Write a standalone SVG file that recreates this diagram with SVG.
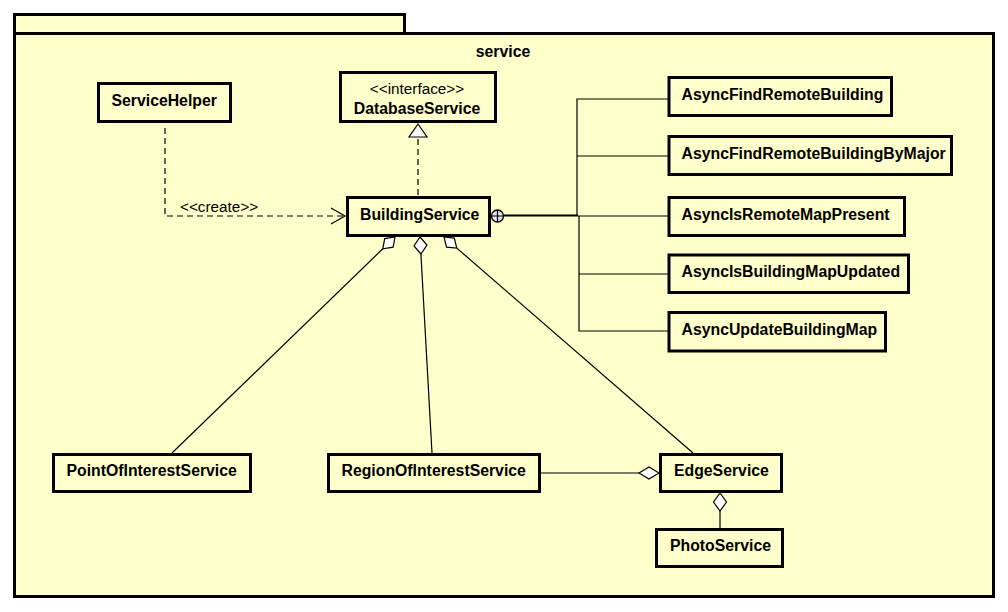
<svg xmlns="http://www.w3.org/2000/svg" width="1008" height="612" viewBox="0 0 1008 612">
  <style>
    .pkg { fill: #ffffcc; stroke: #000; stroke-width: 3; }
    .box { fill: #ffffcc; stroke: #000; stroke-width: 3; }
    .name { font-family: "Liberation Sans", Arial, sans-serif; font-weight: bold; font-size: 15.8px; fill: #000; }
    .stereo { font-family: "Liberation Sans", Arial, sans-serif; font-size: 15.3px; fill: #000; }
    .line { fill: none; stroke: #000; stroke-width: 1.2; }
    .dash { fill: none; stroke: #000; stroke-width: 1.2; stroke-dasharray: 6 4; }
    .diamond { fill: #fff; stroke: #000; stroke-width: 1.2; }
  </style>
  <rect width="1008" height="612" fill="#ffffff"/>

  <!-- package "service" -->
  <g id="package-service">
    <rect class="pkg" x="14.5" y="14.5" width="390" height="19"/>
    <rect class="pkg" x="14.5" y="33.5" width="979" height="563"/>
    <text class="name" x="503" y="57" text-anchor="middle">service</text>
  </g>

  <!-- connectors -->
  <g id="connectors">
    <!-- ServiceHelper creates BuildingService -->
    <path class="dash" d="M165,128 V216 H344"/>
    <path class="line" d="M331,208 L345,216 L331,224"/>
    <text class="stereo" x="180" y="212">&lt;&lt;create&gt;&gt;</text>

    <!-- BuildingService realizes DatabaseService -->
    <path class="dash" d="M418,195 V137"/>
    <path class="diamond" d="M418,124 L427,137 L409,137 Z"/>

    <!-- nested classes of BuildingService: shared trunk, then branches -->
    <path fill="none" stroke="#000" stroke-width="2" d="M503,215.5 H578"/>
    <path class="line" d="M577,215 V99 H668"/>
    <path class="line" d="M577,156 H668"/>
    <path class="line" d="M578,216 H668"/>
    <path class="line" d="M579,216 V331 H668"/>
    <path class="line" d="M579,274 H668"/>
    <circle cx="497.5" cy="216" r="6" fill="#e6e6ee" stroke="#000" stroke-width="1.3"/>
    <path class="line" d="M491.5,216 H503.5 M497.5,210 V222"/>

    <!-- aggregations of BuildingService -->
    <path class="line" d="M382.8,248.8 L172,453"/>
    <path class="diamond" d="M395,237 L393.1,247.2 L382.8,248.8 L384.7,238.6 Z"/>

    <path class="line" d="M420.9,254 L432,453"/>
    <path class="diamond" d="M420,237 L427,245.1 L420.9,254 L414,245.9 Z"/>

    <path class="line" d="M456.8,248.1 L693,453"/>
    <path class="diamond" d="M444,237 L454.3,238.1 L456.8,248.1 L446.5,247.1 Z"/>

    <!-- aggregations of EdgeService -->
    <path class="line" d="M541,473 H639"/>
    <path class="diamond" d="M659,473 L649,467 L639,473 L649,479 Z"/>

    <path class="line" d="M720,511 V528"/>
    <path class="diamond" d="M720,493 L726.5,502 L720,511 L713.5,502 Z"/>
  </g>

  <!-- classes -->
  <g id="ServiceHelper">
    <rect class="box" x="98.5" y="83.5" width="132" height="38"/>
    <text class="name" x="111.5" y="106">ServiceHelper</text>
  </g>

  <g id="DatabaseService">
    <rect class="box" x="340.5" y="72.5" width="155" height="49"/>
    <text class="stereo" x="417" y="94" text-anchor="middle">&lt;&lt;interface&gt;&gt;</text>
    <text class="name" x="417" y="114" text-anchor="middle">DatabaseService</text>
  </g>

  <g id="BuildingService">
    <rect class="box" x="347.5" y="197.5" width="142" height="38"/>
    <text class="name" x="360" y="219.5">BuildingService</text>
  </g>

  <g id="AsyncFindRemoteBuilding">
    <rect class="box" x="669" y="77.5" width="222.5" height="38"/>
    <text class="name" x="681.5" y="99.5">AsyncFindRemoteBuilding</text>
  </g>

  <g id="AsyncFindRemoteBuildingByMajor">
    <rect class="box" x="669" y="136.5" width="282.5" height="38"/>
    <text class="name" x="681.5" y="159">AsyncFindRemoteBuildingByMajor</text>
  </g>

  <g id="AsyncIsRemoteMapPresent">
    <rect class="box" x="669" y="197.5" width="235.5" height="38"/>
    <text class="name" x="681.5" y="219.5">AsyncIsRemoteMapPresent</text>
  </g>

  <g id="AsyncIsBuildingMapUpdated">
    <rect class="box" x="669" y="255" width="239.5" height="37.5"/>
    <text class="name" x="681.5" y="277">AsyncIsBuildingMapUpdated</text>
  </g>

  <g id="AsyncUpdateBuildingMap">
    <rect class="box" x="669" y="312.5" width="216.5" height="38.5"/>
    <text class="name" x="681.5" y="334.5">AsyncUpdateBuildingMap</text>
  </g>

  <g id="PointOfInterestService">
    <rect class="box" x="53.5" y="454.5" width="197" height="37"/>
    <text class="name" x="66.5" y="476">PointOfInterestService</text>
  </g>

  <g id="RegionOfInterestService">
    <rect class="box" x="328.5" y="454.5" width="211" height="37"/>
    <text class="name" x="341.5" y="476">RegionOfInterestService</text>
  </g>

  <g id="EdgeService">
    <rect class="box" x="660.5" y="454.5" width="121" height="37"/>
    <text class="name" x="674" y="476">EdgeService</text>
  </g>

  <g id="PhotoService">
    <rect class="box" x="656.5" y="529.5" width="126" height="37"/>
    <text class="name" x="670" y="551">PhotoService</text>
  </g>
</svg>
